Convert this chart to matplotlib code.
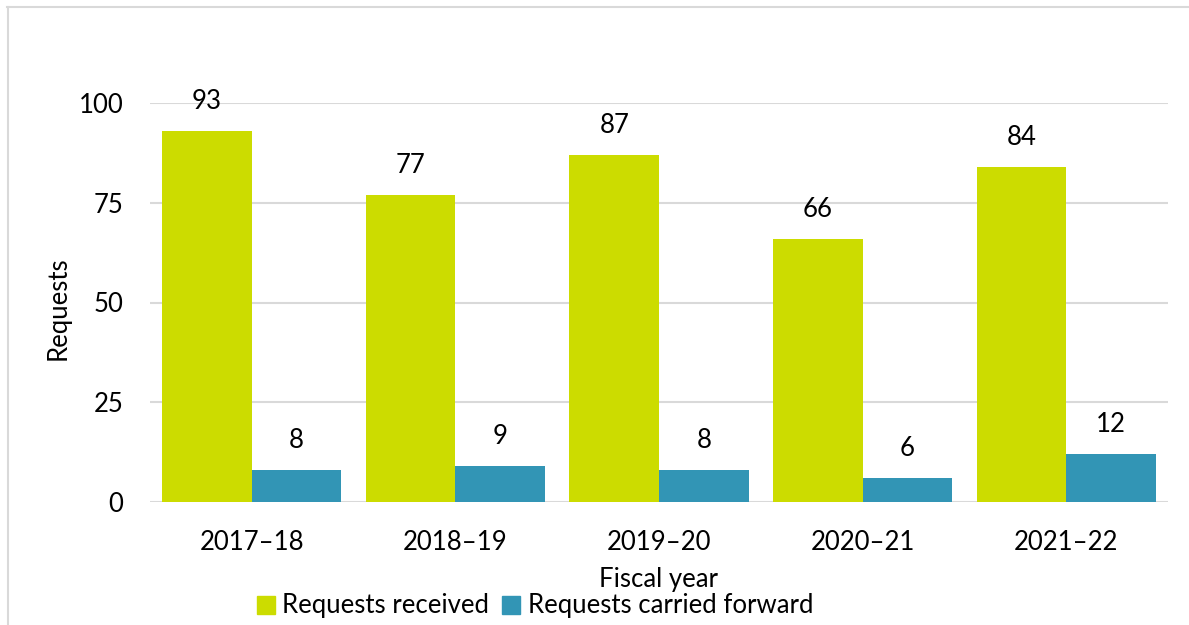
import matplotlib.pyplot as plt
import numpy as np
from matplotlib.patches import Patch
from matplotlib.lines import Line2D

plt.rcParams['font.family'] = ['Lato', 'DejaVu Sans']

years = ['2017–18', '2018–19', '2019–20', '2020–21', '2021–22']
received = [93, 77, 87, 66, 84]
carried_forward = [8, 9, 8, 6, 12]

green = '#CCDC00'
blue = '#3295B5'
fs = 18.5

W, H = 1189, 625
fig = plt.figure(figsize=(W / 100, H / 100), dpi=100)
ax = fig.add_axes([150 / W, 1 - 502 / H, (1168 - 150) / W, (502 - 103) / H])

x = np.arange(len(years))
bw = 0.44
b1 = ax.bar(x - bw / 2, received, bw, color=green, zorder=3)
b2 = ax.bar(x + bw / 2, carried_forward, bw, color=blue, zorder=3)

for bars in (b1, b2):
    for b in bars:
        ax.annotate(f'{b.get_height():g}', (b.get_x() + b.get_width() / 2, b.get_height()),
                    xytext=(0, 21), textcoords='offset points', ha='center', va='center',
                    fontsize=fs, color='black')

ax.set_xlim(-0.5, len(years) - 0.5)
ax.set_ylim(0, 100)
ax.set_yticks([0, 25, 50, 75, 100])
ax.set_xticks(x)
ax.set_xticklabels(years)
ax.tick_params(axis='both', length=0, labelsize=fs, colors='black')
ax.tick_params(axis='x', pad=20)
ax.tick_params(axis='y', pad=19)
ax.grid(axis='y', color='#D9D9D9', linewidth=1.5, zorder=0)
for s in ax.spines.values():
    s.set_visible(False)

fig.text(58 / W, 1 - 308 / H, 'Requests', rotation=90, ha='center', va='center', fontsize=fs)
fig.text(659 / W, 1 - 580 / H, 'Fiscal year', ha='center', va='center', fontsize=fs)

handles = [Patch(color=green), Patch(color=blue)]
fig.legend(handles, ['Requests received', 'Requests carried forward'],
           loc='center', bbox_to_anchor=(535 / W, 1 - 606 / H), ncol=2, frameon=False,
           fontsize=fs, handlelength=0.7, handleheight=0.7, handletextpad=0.3, columnspacing=0.5,
           borderpad=0)

# light frame along the top and left edges
fig.add_artist(Line2D([7 / W, 1], [1 - 6.5 / H, 1 - 6.5 / H], color='#D9D9D9', lw=1.5))
fig.add_artist(Line2D([7.5 / W, 7.5 / W], [0, 1 - 6.5 / H], color='#D9D9D9', lw=1.5))

fig.savefig('out.png', dpi=100)
